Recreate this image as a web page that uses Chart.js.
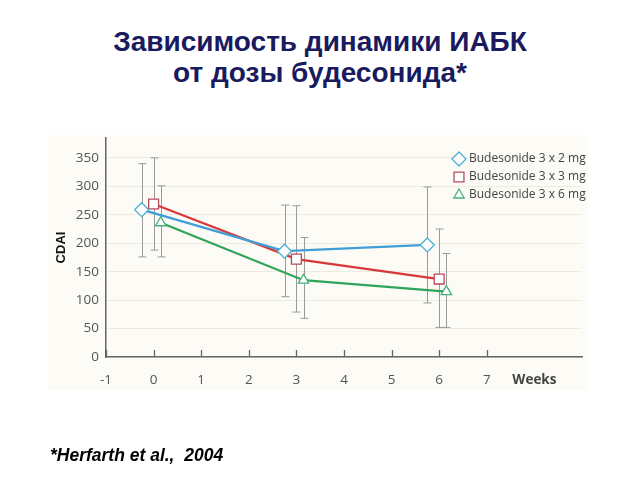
<!DOCTYPE html>
<html>
<head>
<meta charset="utf-8">
<script src="https://cdn.jsdelivr.net/npm/chart.js@4"></script>
<style>
  body { margin: 0; width: 640px; height: 480px; background: #fff; position: relative; overflow: hidden; }
  #title { position: absolute; left: 0; top: 26px; width: 640px; text-align: center;
    font: bold 28px "Liberation Sans", Arial, sans-serif; color: #1a1a5e; line-height: 31px; }
  #panel { position: absolute; left: 48px; top: 135px; width: 540px; height: 255px; background: #fcfbf6; }
  #note { position: absolute; left: 50px; top: 445px;
    font: italic bold 17.5px "Liberation Sans", Arial, sans-serif; color: #000; }
  #wrap { position: absolute; left: 0; top: 0; width: 640px; height: 480px; }
</style>
</head>
<body>
<div id="title">Зависимость динамики ИАБК<br>от дозы будесонида*</div>
<div id="panel"></div>
<div id="wrap"><canvas id="myChart" width="640" height="480"></canvas></div>
<div id="note">*Herfarth et al.,&nbsp; 2004</div>
<script>
// weeks (slightly offset per group like in the paper)
const seriesNames = ['Budesonide 3 x 2 mg', 'Budesonide 3 x 3 mg', 'Budesonide 3 x 6 mg']
const weeks2mg = [-0.25, 2.75, 5.75]
const weeks3mg = [0, 3, 6]
const weeks6mg = [0.15, 3.15, 6.15]

// CDAI mean
const cdai2mg = [259, 186, 197]
const cdai3mg = [269, 172, 137]
const cdai6mg = [236, 135, 115]

// error bar ends
const hi2mg = [340, 267, 299]
const lo2mg = [176, 106, 95]
const hi3mg = [350, 266, 225]
const lo3mg = [188, 79, 52]
const hi6mg = [301, 210, 182]
const lo6mg = [176, 68, 52]

const xTickValues = [-1, 0, 1, 2, 3, 4, 5, 6, 7]
const yTickValues = [0, 50, 100, 150, 200, 250, 300, 350]

const toPoints = (xs, ys) => xs.map((x, i) => ({ x: x, y: ys[i] }))

const datasets = [
  { label: seriesNames[0], data: toPoints(weeks2mg, cdai2mg), hi: hi2mg, lo: lo2mg,
    lineColor: '#3f9dd8', markColor: '#4cb0d2', pointStyle: 'rectRot', pointRadius: 7 },
  { label: seriesNames[1], data: toPoints(weeks3mg, cdai3mg), hi: hi3mg, lo: lo3mg,
    lineColor: '#d8383c', markColor: '#b84a5e', pointStyle: 'rect', pointRadius: 7 },
  { label: seriesNames[2], data: toPoints(weeks6mg, cdai6mg), hi: hi6mg, lo: lo6mg,
    lineColor: '#2fa45a', markColor: '#45b07a', pointStyle: 'triangle', pointRadius: 6 }
].map(d => ({
  ...d,
  showLine: true,
  borderColor: d.lineColor,
  borderWidth: 2.3,
  pointBorderWidth: 1.3,
  pointBackgroundColor: '#ffffff',
  pointBorderColor: d.markColor,
  backgroundColor: '#ffffff'
}))

// error bars + x tick marks pointing up from the axis
const errorBars = {
  id: 'errorBars',
  beforeDatasetsDraw(chart) {
    const ctx = chart.ctx
    const xs = chart.scales.x
    const ys = chart.scales.y
    ctx.save()
    ctx.strokeStyle = '#9a9a9a'
    ctx.lineWidth = 1
    chart.data.datasets.forEach(ds => {
      ds.data.forEach((p, i) => {
        const px = Math.round(xs.getPixelForValue(p.x)) + 0.5
        const top = ys.getPixelForValue(ds.hi[i])
        const bot = ys.getPixelForValue(ds.lo[i])
        ctx.beginPath()
        ctx.moveTo(px, top); ctx.lineTo(px, bot)
        ctx.moveTo(px - 4, top); ctx.lineTo(px + 4, top)
        ctx.moveTo(px - 4, bot); ctx.lineTo(px + 4, bot)
        ctx.stroke()
      })
    })
    ctx.strokeStyle = '#666'
    ctx.lineWidth = 1.3
    xTickValues.forEach(v => {
      const px = Math.round(xs.getPixelForValue(v)) + 0.5
      ctx.beginPath()
      ctx.moveTo(px, ys.bottom); ctx.lineTo(px, ys.bottom - 7)
      ctx.stroke()
    })
    ctx.restore()
  }
}

// legend in the top right corner of the plot
const sideLegend = {
  id: 'sideLegend',
  afterDraw(chart) {
    const ctx = chart.ctx
    const area = chart.chartArea
    chart.data.datasets.forEach((ds, i) => {
      const x = area.right - 123
      const y = area.top + 21 + i * 18
      ctx.save()
      ctx.fillStyle = '#ffffff'
      ctx.strokeStyle = ds.markColor
      ctx.lineWidth = 1.3
      Chart.helpers.drawPoint(ctx, { pointStyle: ds.pointStyle, radius: ds.pointRadius, borderWidth: 1.3 }, x, y)
      ctx.font = '12px "Open Sans", sans-serif'
      ctx.textBaseline = 'middle'
      ctx.fillStyle = '#444'
      ctx.fillText(ds.label, x + 10, y)
      ctx.restore()
    })
  }
}

new Chart(document.getElementById('myChart'), {
  type: 'scatter',
  data: { datasets: datasets },
  plugins: [errorBars, sideLegend],
  options: {
    responsive: false,
    animation: false,
    devicePixelRatio: 1,
    layout: { padding: { left: 50, right: 58, top: 138, bottom: 90 } },
    plugins: { legend: { display: false }, tooltip: { enabled: false } },
    scales: {
      x: {
        type: 'linear', min: -1, max: 9,
        afterBuildTicks: s => { s.ticks = xTickValues.concat([8]).map(v => ({ value: v })) },
        afterFit: s => { s.height = 33 },
        border: { display: true, color: '#666', width: 1.5 },
        grid: { display: false },
        ticks: {
          padding: 7,
          autoSkip: false,
          maxRotation: 0,
          callback: v => v === 8 ? 'Weeks' : String(v),
          color: c => c.tick && c.tick.value === 8 ? '#444' : '#555',
          font: c => c.tick && c.tick.value === 8
            ? { family: '"Open Sans", sans-serif', size: 13.5, weight: 'bold' }
            : { family: '"Open Sans", sans-serif', size: 13.5 }
        }
      },
      y: {
        min: 0, max: 385,
        afterBuildTicks: s => { s.ticks = yTickValues.map(v => ({ value: v })) },
        afterFit: s => { s.width = 56 },
        border: { display: true, color: '#666', width: 1.5 },
        grid: { color: '#ecebe2', lineWidth: 1, drawTicks: false },
        ticks: {
          padding: 7,
          color: '#555',
          font: { family: '"Open Sans", sans-serif', size: 13.5 }
        },
        title: {
          display: true, text: 'CDAI', color: '#111',
          padding: { top: 4, bottom: 0 },
          font: { family: '"Liberation Sans", Arial, sans-serif', size: 13, weight: 'bold' }
        }
      }
    }
  }
})
</script>
</body>
</html>
